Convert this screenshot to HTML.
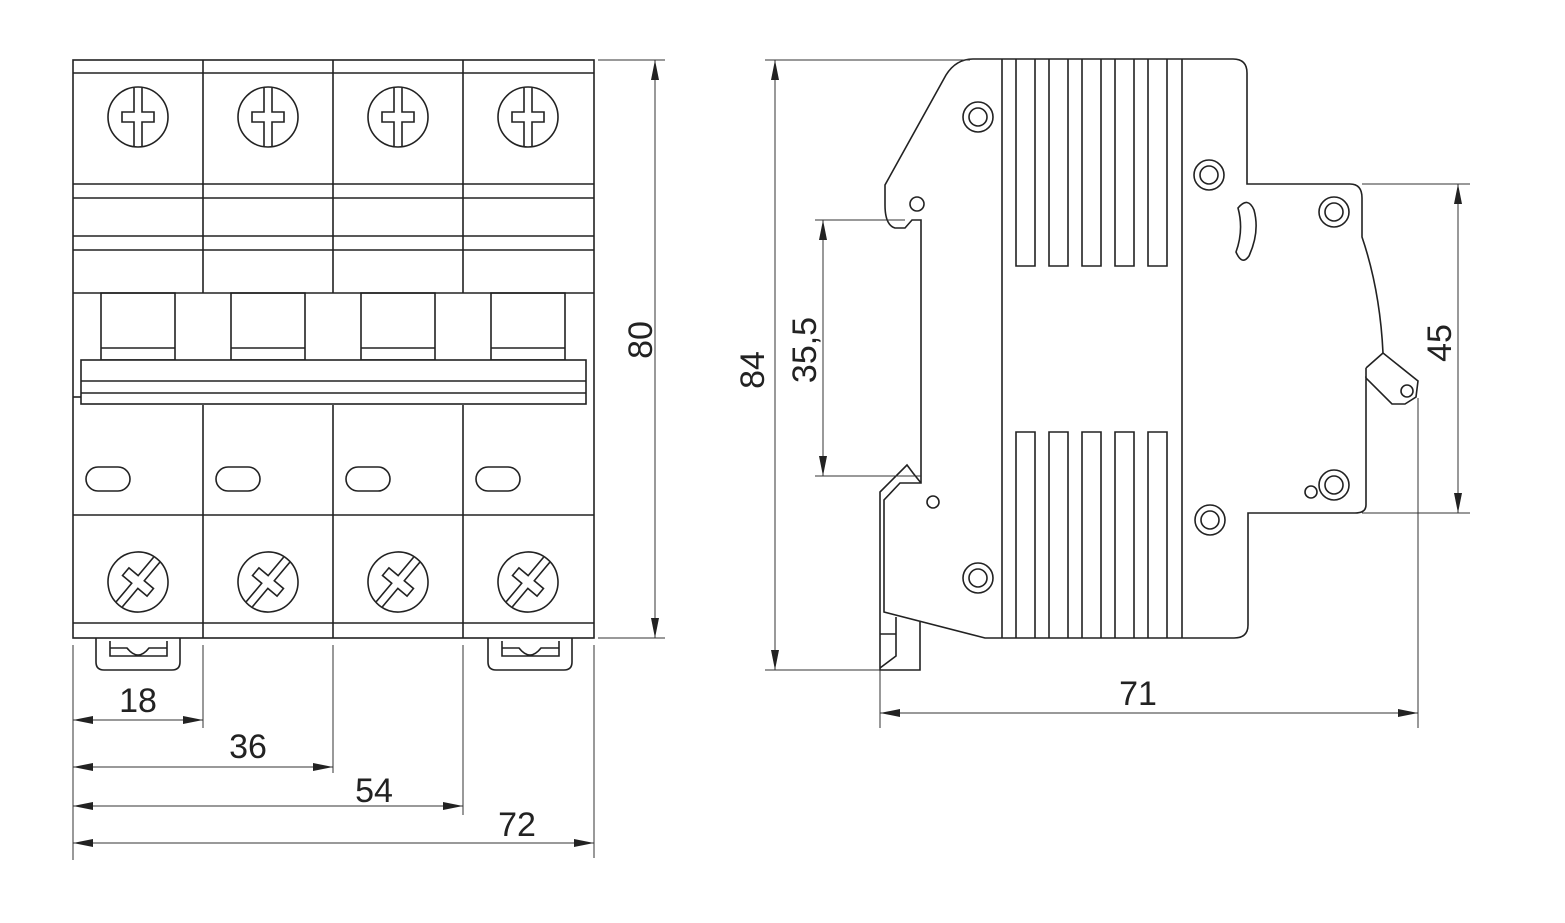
<!DOCTYPE html>
<html><head><style>html,body{margin:0;padding:0;background:#fff}svg{display:block}text{font-family:"Liberation Sans",sans-serif;font-size:34px;fill:#222}</style></head><body>
<svg width="1565" height="923" viewBox="0 0 1565 923" xmlns="http://www.w3.org/2000/svg">
<defs>
<marker id="a" viewBox="0 0 20 8" refX="20" refY="4" markerWidth="20" markerHeight="8" markerUnits="userSpaceOnUse" orient="auto-start-reverse"><path d="M0,0 L20,4 L0,8 Z" fill="#222"/></marker>
<g id="scr"><circle r="30" fill="none" stroke="#222" stroke-width="1.6"/><path d="M-4,-29 V-5 H-16 V5 H-4 V29 M4,-29 V-5 H16 V5 H4 V29" fill="none" stroke="#222" stroke-width="1.6"/></g>
<g id="scr2"><use href="#scr" transform="rotate(40)"/></g>
<g id="ring"><circle r="15" fill="none" stroke="#222" stroke-width="1.6"/><circle r="9" fill="none" stroke="#222" stroke-width="1.6"/></g>
</defs>
<g fill="none" stroke="#222" stroke-width="1.6">
<rect x="73" y="60" width="521" height="578"/>
<line x1="73" y1="73" x2="594" y2="73"/>
<line x1="73" y1="184" x2="594" y2="184"/>
<line x1="73" y1="198" x2="594" y2="198"/>
<line x1="73" y1="236" x2="594" y2="236"/>
<line x1="73" y1="250" x2="594" y2="250"/>
<line x1="73" y1="293" x2="594" y2="293"/>
<line x1="203" y1="60" x2="203" y2="293"/><line x1="333" y1="60" x2="333" y2="293"/><line x1="463" y1="60" x2="463" y2="293"/>
<line x1="203" y1="405" x2="203" y2="638"/><line x1="333" y1="405" x2="333" y2="638"/><line x1="463" y1="405" x2="463" y2="638"/>
<line x1="73" y1="515" x2="594" y2="515"/>
<line x1="73" y1="623" x2="594" y2="623"/>
<g id="box"><rect x="101" y="293" width="74" height="67"/><line x1="101" y1="348" x2="175" y2="348"/></g>
<use href="#box" x="130"/><use href="#box" x="260"/><use href="#box" x="390"/>
<rect x="81" y="360" width="505" height="44" fill="#fff"/>
<line x1="81" y1="381" x2="586" y2="381"/><line x1="81" y1="393" x2="586" y2="393"/>
<line x1="73" y1="397" x2="81" y2="397"/>
<g id="pill"><rect x="86" y="467" width="44" height="24" rx="12"/></g>
<use href="#pill" x="130"/><use href="#pill" x="260"/><use href="#pill" x="390"/>
<use href="#scr" x="138" y="117"/><use href="#scr" x="268" y="117"/><use href="#scr" x="398" y="117"/><use href="#scr" x="528" y="117"/>
<use href="#scr2" x="138" y="582"/><use href="#scr2" x="268" y="582"/><use href="#scr2" x="398" y="582"/><use href="#scr2" x="528" y="582"/>
<g id="clip"><path d="M96,638 V662 Q96,670 104,670 H172 Q180,670 180,662 V638"/><path d="M110,641 V656 H167 V641 M110,648 H127 Q138,662 149,648 H167"/></g>
<use href="#clip" x="392"/>
</g>
<g stroke="#333" stroke-width="1" fill="none">
<line x1="73" y1="645" x2="73" y2="860"/><line x1="203" y1="645" x2="203" y2="728"/><line x1="333" y1="645" x2="333" y2="773"/><line x1="463" y1="645" x2="463" y2="815"/><line x1="594" y1="645" x2="594" y2="858"/>
<line x1="73" y1="720" x2="203" y2="720" marker-start="url(#a)" marker-end="url(#a)"/>
<line x1="73" y1="767" x2="333" y2="767" marker-start="url(#a)" marker-end="url(#a)"/>
<line x1="73" y1="806" x2="463" y2="806" marker-start="url(#a)" marker-end="url(#a)"/>
<line x1="73" y1="843" x2="594" y2="843" marker-start="url(#a)" marker-end="url(#a)"/>
<line x1="598" y1="60" x2="665" y2="60"/><line x1="598" y1="638" x2="665" y2="638"/>
<line x1="655" y1="60" x2="655" y2="638" marker-start="url(#a)" marker-end="url(#a)"/>
</g>
<text x="138" y="712" text-anchor="middle">18</text>
<text x="248" y="758" text-anchor="middle">36</text>
<text x="374" y="802" text-anchor="middle">54</text>
<text x="517" y="836" text-anchor="middle">72</text>
<text transform="translate(652,340) rotate(-90)" text-anchor="middle">80</text>
<g fill="none" stroke="#222" stroke-width="1.6">
<path d="M973,59 H1233 Q1247,59 1247,73 V184 H1350 Q1362,184 1362,198 V237 Q1380,290 1383,353 L1418,381 L1416,397 L1405,404 H1392 L1366,378 V505 Q1366,513 1355,513 H1248 V625 Q1248,638 1234,638 H985 L884,612 V500 L900,483 H921 V220 H912 L905,228 H895 Q885,225 885,205 V185 L946,75 Q956,59 973,59 Z"/>
<path d="M1366,368 V378 M1366,368 L1383,353"/>
<path d="M921,483 L913,473 L907,465 L880,492 V670 H920 V622"/>
<path d="M896,617 V656 L880,668 M880,634 H896"/>
<line x1="1002" y1="59" x2="1002" y2="638"/><line x1="1182" y1="59" x2="1182" y2="638"/>
<g id="rib"><path d="M1016,59 V266 H1035 V59"/><path d="M1016,638 V432 H1035 V638"/></g>
<use href="#rib" x="33"/><use href="#rib" x="66"/><use href="#rib" x="99"/><use href="#rib" x="132"/>
<use href="#ring" x="978" y="117"/><use href="#ring" x="1209" y="175"/><use href="#ring" x="1334" y="212"/>
<use href="#ring" x="1334" y="485"/><use href="#ring" x="1210" y="520"/><use href="#ring" x="978" y="578"/>
<circle cx="917" cy="204" r="7"/><circle cx="933" cy="502" r="6"/><circle cx="1311" cy="492" r="6"/><circle cx="1407" cy="391" r="6"/>
<path d="M1238,208 Q1248,196 1254,210 Q1260,232 1249,256 Q1242,266 1236,252 Q1244,230 1238,208 Z"/>
</g>
<g stroke="#333" stroke-width="1" fill="none">
<line x1="765" y1="60" x2="970" y2="60"/><line x1="765" y1="670" x2="880" y2="670"/>
<line x1="775" y1="60" x2="775" y2="670" marker-start="url(#a)" marker-end="url(#a)"/>
<line x1="815" y1="220" x2="905" y2="220"/><line x1="815" y1="476" x2="921" y2="476"/>
<line x1="823" y1="220" x2="823" y2="476" marker-start="url(#a)" marker-end="url(#a)"/>
<line x1="1362" y1="184" x2="1470" y2="184"/><line x1="1362" y1="513" x2="1470" y2="513"/>
<line x1="1458" y1="184" x2="1458" y2="513" marker-start="url(#a)" marker-end="url(#a)"/>
<line x1="880" y1="670" x2="880" y2="728"/><line x1="1418" y1="398" x2="1418" y2="728"/>
<line x1="880" y1="713" x2="1418" y2="713" marker-start="url(#a)" marker-end="url(#a)"/>
</g>
<text transform="translate(764,370) rotate(-90)" text-anchor="middle">84</text>
<text transform="translate(816,350) rotate(-90)" text-anchor="middle">35,5</text>
<text transform="translate(1451,343) rotate(-90)" text-anchor="middle">45</text>
<text x="1138" y="705" text-anchor="middle">71</text>
</svg>
</body></html>
